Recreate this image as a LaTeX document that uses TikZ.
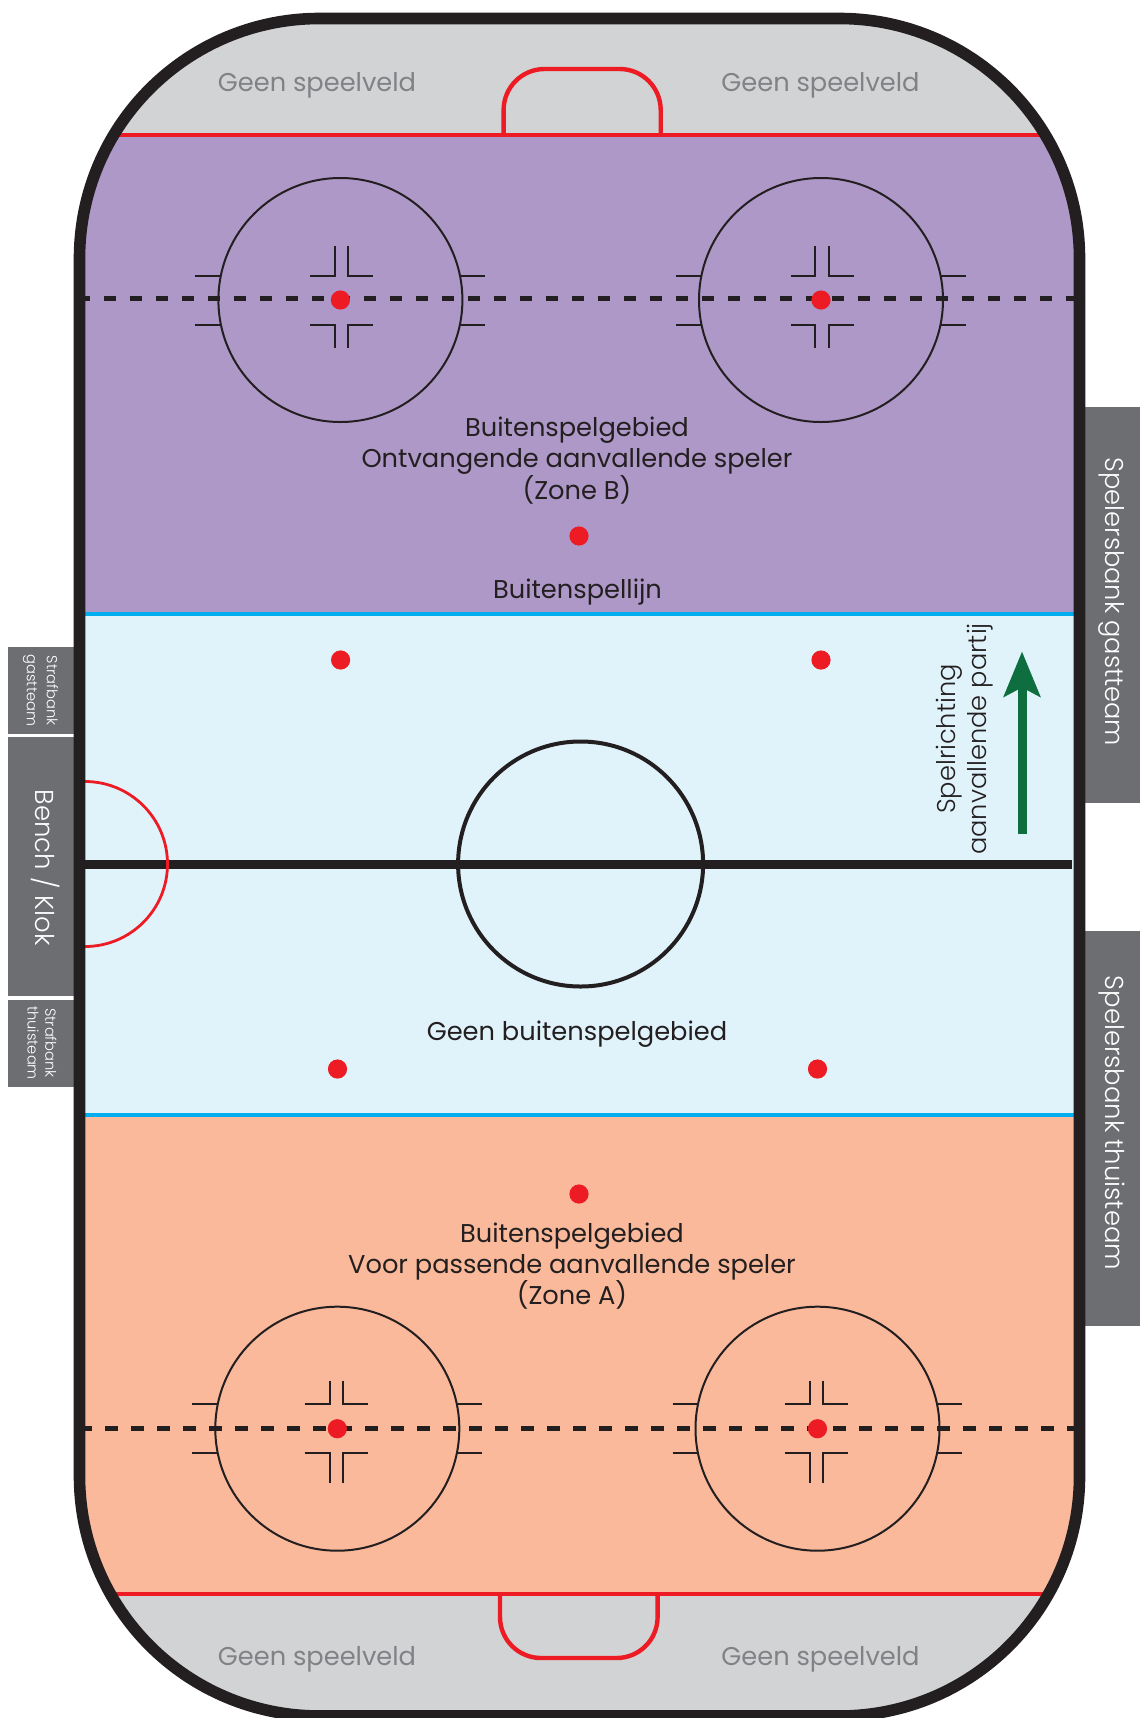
\documentclass[tikz,border=0pt]{standalone}
\usepackage{fontspec}
\setmainfont{Poppins}
\newfontfamily\poppinslight{Poppins Light}
\usepackage{xcolor}
\usetikzlibrary{arrows.meta}

\definecolor{rinkblack}{HTML}{231F20}
\definecolor{rinkred}{HTML}{ED1C24}
\definecolor{rinkblue}{HTML}{00AEEF}
\definecolor{zonepurple}{HTML}{AE98C7}
\definecolor{zoneice}{HTML}{E0F3FB}
\definecolor{zoneorange}{HTML}{F9B99A}
\definecolor{zonegrey}{HTML}{D1D3D4}
\definecolor{benchgrey}{HTML}{6D6E71}
\definecolor{labelgrey}{HTML}{808285}
\definecolor{arrowgreen}{HTML}{0F6E3F}

\begin{document}
\begin{tikzpicture}[
    x=1bp, y=-1bp,
    every node/.style={inner sep=0pt, outer sep=0pt},
    bench/.style={fill=benchgrey},
    redline/.style={draw=rinkred, line width=4.4bp},
    blueline/.style={draw=rinkblue, line width=4.2bp},
    dotline/.style={draw=rinkblack, line width=5bp, dash pattern=on 12.5bp off 13.5bp},
    thinline/.style={draw=rinkblack, line width=2bp},
    dot/.style={fill=rinkred},
    zonetext/.style={font=\fontsize{25.8}{31}\selectfont, text=rinkblack, align=center},
    greytext/.style={font=\fontsize{25.8}{31}\selectfont, text=labelgrey, anchor=base},
    benchtext/.style={text=white, rotate=-90, align=center}
]
\useasboundingbox (0,0) rectangle (1140,1718);

% Benches
\fill[bench] (8,647) rectangle (75,734);
\fill[bench] (8,737) rectangle (75,996);
\fill[bench] (8,1000) rectangle (75,1087);
\fill[bench] (1083,407) rectangle (1140,802.5);
\fill[bench] (1083,931) rectangle (1140,1326);

% Rink
\begin{scope}
\clip[rounded corners=240bp] (79.5,18.5) rectangle (1079.5,1716);
\fill[zonegrey] (70,10) rectangle (1090,134.7);
\fill[zonepurple] (70,134.7) rectangle (1090,614.3);
\fill[zoneice] (70,614.3) rectangle (1090,1115);
\fill[zoneorange] (70,1115) rectangle (1090,1594);
\fill[zonegrey] (70,1594) rectangle (1090,1725);

% Lines
\draw[redline] (70,134.7) -- (1090,134.7);
\draw[redline] (70,1594) -- (1090,1594);
\draw[blueline] (70,614.3) -- (1090,614.3);
\draw[blueline] (70,1115) -- (1090,1115);
\draw[draw=rinkblack, line width=8.5bp] (70,864.3) -- (1072,864.3);
\draw[dotline] (77.6,298.3) -- (1074,298.3);
\draw[dotline] (79,1428) -- (1074,1428);

% Creases
\draw[redline, rounded corners=41bp] (503.6,134.7) -- (503.6,69) -- (660.7,69) -- (660.7,134.7);
\draw[redline, rounded corners=41bp] (500,1594) -- (500,1658) -- (657.6,1658) -- (657.6,1594);

% Centre and referee circle
\draw[draw=rinkred, line width=2.8bp] (85,864) circle (82.5bp);
\draw[draw=rinkblack, line width=4bp] (580.6,864) circle (122.5bp);

% Faceoff circles
\foreach \cx/\cy/\up/\dn/\sh in {340.4/300/54/48/1.1, 821/300/54/48/1.1, 337.3/1428.7/48/54/-1.1, 817.5/1428.7/48/54/-1.1} {
    \draw[thinline] (\cx,\cy) circle (122bp);
    \draw[thinline] (\cx-145,\cy-24.5) -- (\cx-119,\cy-24.5);
    \draw[thinline] (\cx-145,\cy+24.5) -- (\cx-119,\cy+24.5);
    \draw[thinline] (\cx+119,\cy-24.5) -- (\cx+144.5,\cy-24.5);
    \draw[thinline] (\cx+119,\cy+24.5) -- (\cx+144.5,\cy+24.5);
    \draw[thinline] (\cx+\sh-31.5,\cy-24.5) -| (\cx+\sh-6.7,\cy-\up);
    \draw[thinline] (\cx+\sh+31.5,\cy-24.5) -| (\cx+\sh+6.7,\cy-\up);
    \draw[thinline] (\cx+\sh-31.5,\cy+24.5) -| (\cx+\sh-6.7,\cy+\dn);
    \draw[thinline] (\cx+\sh+31.5,\cy+24.5) -| (\cx+\sh+6.7,\cy+\dn);
    \fill[dot] (\cx,\cy) circle (9.6bp);
}

% Neutral zone dots
\fill[dot] (340.6,660) circle (9.6bp);
\fill[dot] (821,660) circle (9.6bp);
\fill[dot] (337.5,1069) circle (9.6bp);
\fill[dot] (817.5,1069) circle (9.6bp);
\fill[dot] (579,536) circle (9.6bp);
\fill[dot] (579,1194) circle (9.6bp);
\end{scope}

% Board
\draw[draw=rinkblack, line width=11.6bp, rounded corners=240bp] (79.5,18.5) rectangle (1079.5,1716);

% Play direction
\coordinate (arrowstart) at (1022,833.6);
\coordinate (arrowend) at (1022,651.4);
\draw[draw=arrowgreen, line width=9bp, -{Stealth[length=45bp, width=36bp, inset=9bp]}] (arrowstart) -- (arrowend);

% Labels
\node[greytext] (nofield1) at (317,91.5) {Geen speelveld};
\node[greytext] (nofield2) at (820.5,91.5) {Geen speelveld};
\node[greytext] (nofield3) at (317,1665) {Geen speelveld};
\node[greytext] (nofield4) at (820.5,1665) {Geen speelveld};
\node[zonetext] (zoneb) at (577,461) {Buitenspelgebied\\Ontvangende aanvallende speler\\(Zone B)};
\node[zonetext, anchor=base] (offside) at (577.5,598) {Buitenspellijn};
\node[zonetext, anchor=base] (neutral) at (577,1040) {Geen buitenspelgebied};
\node[zonetext] (zonea) at (572,1266) {Buitenspelgebied\\Voor passende aanvallende speler\\(Zone A)};
\node[zonetext, rotate=90, font=\poppinslight\fontsize{25.8}{31}\selectfont] (direction) at (965,739) {Spelrichting\\aanvallende partij};
\node[benchtext, font=\poppinslight\fontsize{25.8}{30}\selectfont] (visitors) at (1112,602) {Spelersbank gastteam};
\node[benchtext, font=\poppinslight\fontsize{26}{30}\selectfont] (home) at (1112,1123) {Spelersbank thuisteam};
\node[benchtext, font=\poppinslight\fontsize{26}{30}\selectfont] (clock) at (46,867.7) {Bench / Klok};
\node[benchtext, font=\poppinslight\fontsize{14.7}{20}\selectfont] (penalty1) at (40.5,690.5) {Strafbank\\gastteam};
\node[benchtext, font=\poppinslight\fontsize{14.7}{18}\selectfont] (penalty2) at (42,1043) {Strafbank\\thuisteam};
\end{tikzpicture}
\end{document}
